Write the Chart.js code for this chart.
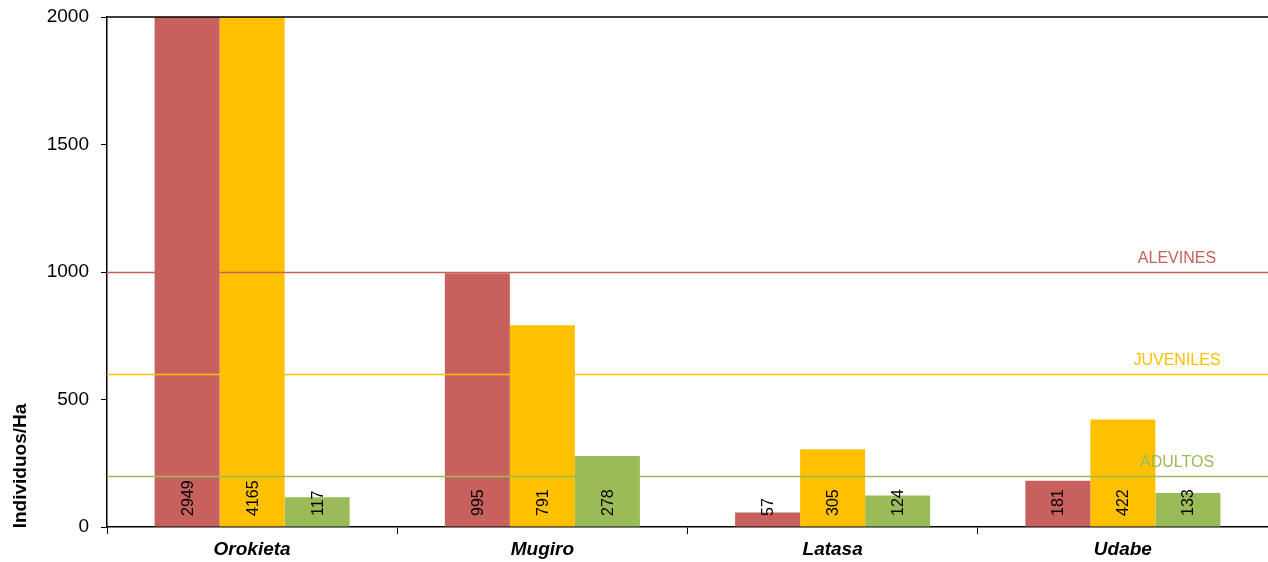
<!DOCTYPE html>
<html>
<head>
<meta charset="utf-8">
<script src="https://cdn.jsdelivr.net/npm/chart.js@4/dist/chart.umd.min.js"></script>
<style>
  html, body { margin: 0; padding: 0; background: #fff; }
  #box { width: 1268px; height: 562px; }
</style>
</head>
<body>
<div id="box"><canvas id="myChart"></canvas></div>
<script>
// ---- data ----
const sites = ['Orokieta', 'Mugiro', 'Latasa', 'Udabe'];
const alevines = [2949, 995, 57, 181];
const juveniles = [4165, 791, 305, 422];
const adultos = [117, 278, 124, 133];
const yTicks = [0, 500, 1000, 1500, 2000];

// reference levels drawn as lines across the plot
const refNames = ['ALEVINES', 'JUVENILES', 'ADULTOS'];
const refValues = [1000, 600, 200];

const RED = '#C8605E';
const YELLOW = '#FFC000';
const GREEN = '#9BBB59';
const refColors = [RED, YELLOW, GREEN];
const FONT = 'Arial, "Liberation Sans", sans-serif';

// ---- plugin: top frame, reference lines, value labels, y title ----
const extras = {
  id: 'extras',
  afterDatasetsDraw(chart) {
    const c = chart.ctx;
    const area = chart.chartArea;
    const y = chart.scales.y;
    c.save();

    // top frame line
    c.strokeStyle = '#000';
    c.lineWidth = 1.5;
    c.beginPath();
    c.moveTo(area.left, area.top);
    c.lineTo(area.right, area.top);
    c.stroke();

    // reference lines + their names
    refValues.forEach((v, i) => {
      const py = Math.round(y.getPixelForValue(v)) + 0.5;
      c.strokeStyle = refColors[i];
      c.lineWidth = 1.5;
      c.beginPath();
      c.moveTo(area.left, py);
      c.lineTo(area.right, py);
      c.stroke();
      c.fillStyle = refColors[i];
      c.font = '16px ' + FONT;
      c.textAlign = 'center';
      c.textBaseline = 'alphabetic';
      c.fillText(refNames[i], 1177, py - 10);
    });

    // value labels, vertical, near the base of each bar
    const base = y.getPixelForValue(0);
    chart.data.datasets.forEach((ds, di) => {
      const meta = chart.getDatasetMeta(di);
      meta.data.forEach((bar, j) => {
        c.save();
        c.translate(bar.x, base - 11);
        c.rotate(-Math.PI / 2);
        c.fillStyle = '#000';
        c.font = '16px ' + FONT;
        c.textAlign = 'left';
        c.textBaseline = 'middle';
        c.fillText(String(ds.data[j]), 0, 1);
        c.restore();
      });
    });

    // y axis title, sits low on the left
    c.save();
    c.translate(21, 466);
    c.rotate(-Math.PI / 2);
    c.fillStyle = '#000';
    c.font = 'bold 19px ' + FONT;
    c.textAlign = 'center';
    c.textBaseline = 'middle';
    c.fillText('Individuos/Ha', 0, 0);
    c.restore();

    c.restore();
  }
};

new Chart(document.getElementById('myChart'), {
  type: 'bar',
  data: {
    labels: sites,
    datasets: [
      { label: 'Alevines', data: alevines, backgroundColor: RED },
      { label: 'Juveniles', data: juveniles, backgroundColor: YELLOW },
      { label: 'Adultos', data: adultos, backgroundColor: GREEN }
    ]
  },
  options: {
    responsive: true,
    maintainAspectRatio: false,
    animation: false,
    devicePixelRatio: 1,
    layout: { padding: { top: 17, right: 0, left: 0, bottom: 0 } },
    datasets: { bar: { categoryPercentage: 0.672, barPercentage: 1.0 } },
    plugins: {
      legend: { display: false },
      tooltip: { enabled: false }
    },
    scales: {
      x: {
        grid: { display: true, drawOnChartArea: false, offset: true, color: '#000', tickLength: 7, lineWidth: 1 },
        border: { display: true, color: '#000', width: 1.5 },
        ticks: {
          color: '#000',
          padding: 4,
          font: { family: FONT, size: 19, weight: 'bold', style: 'italic' }
        },
        afterFit(scale) { scale.height = 35; scale.paddingLeft = 0; scale.paddingRight = 0; }
      },
      y: {
        min: 0,
        max: 2000,
        afterBuildTicks(scale) { scale.ticks = yTicks.map(v => ({ value: v })); },
        grid: { display: true, drawOnChartArea: false, color: '#000', tickLength: 6 },
        border: { display: true, color: '#000', width: 1.5 },
        ticks: {
          color: '#000',
          padding: 12,
          font: { family: FONT, size: 19 },
          callback: (v) => String(v)
        },
        afterFit(scale) { scale.width = 107; scale.paddingTop = 0; scale.paddingBottom = 0; }
      }
    }
  },
  plugins: [extras]
});
</script>
</body>
</html>
